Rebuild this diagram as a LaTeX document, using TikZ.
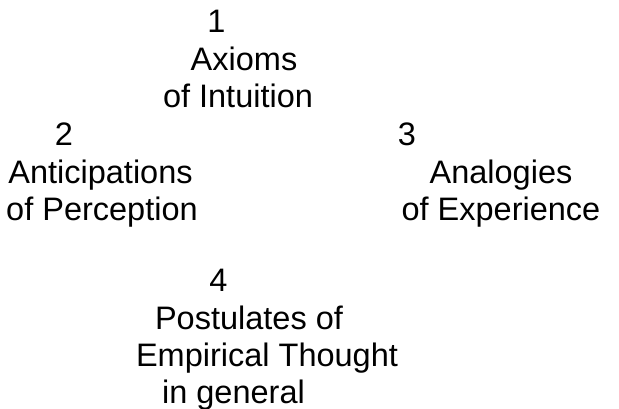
\documentclass[tikz,border=0pt]{standalone}
\usepackage{fontspec}
\setmainfont{Liberation Sans}
\begin{document}
\begin{tikzpicture}[x=1pt,y=-1pt,
  txt/.style={inner sep=0pt,outer sep=0pt,anchor=base,font=\fontsize{32.5}{39}\selectfont,text=black}]
\useasboundingbox[fill=white] (0,0) rectangle (619,408);
% 1
\node[txt] (n1) at (216.5,32) {1};
\node[txt] (n1a) at (244,70) {Axioms};
\node[txt] (n1b) at (238,107.5) {of Intuition};
% 2
\node[txt] (n2) at (64,145) {2};
\node[txt] (n2a) at (100.5,183) {Anticipations};
\node[txt] (n2b) at (102,220.5) {of Perception};
% 3
\node[txt] (n3) at (407,145) {3};
\node[txt] (n3a) at (501,183) {Analogies};
\node[txt] (n3b) at (501,220.5) {of Experience};
% 4
\node[txt] (n4) at (218.5,291.5) {4};
\node[txt] (n4a) at (249,329) {Postulates of};
\node[txt] (n4b) at (267,366) {Empirical Thought};
\node[txt] (n4c) at (233.5,403.5) {in general};
\end{tikzpicture}
\end{document}
